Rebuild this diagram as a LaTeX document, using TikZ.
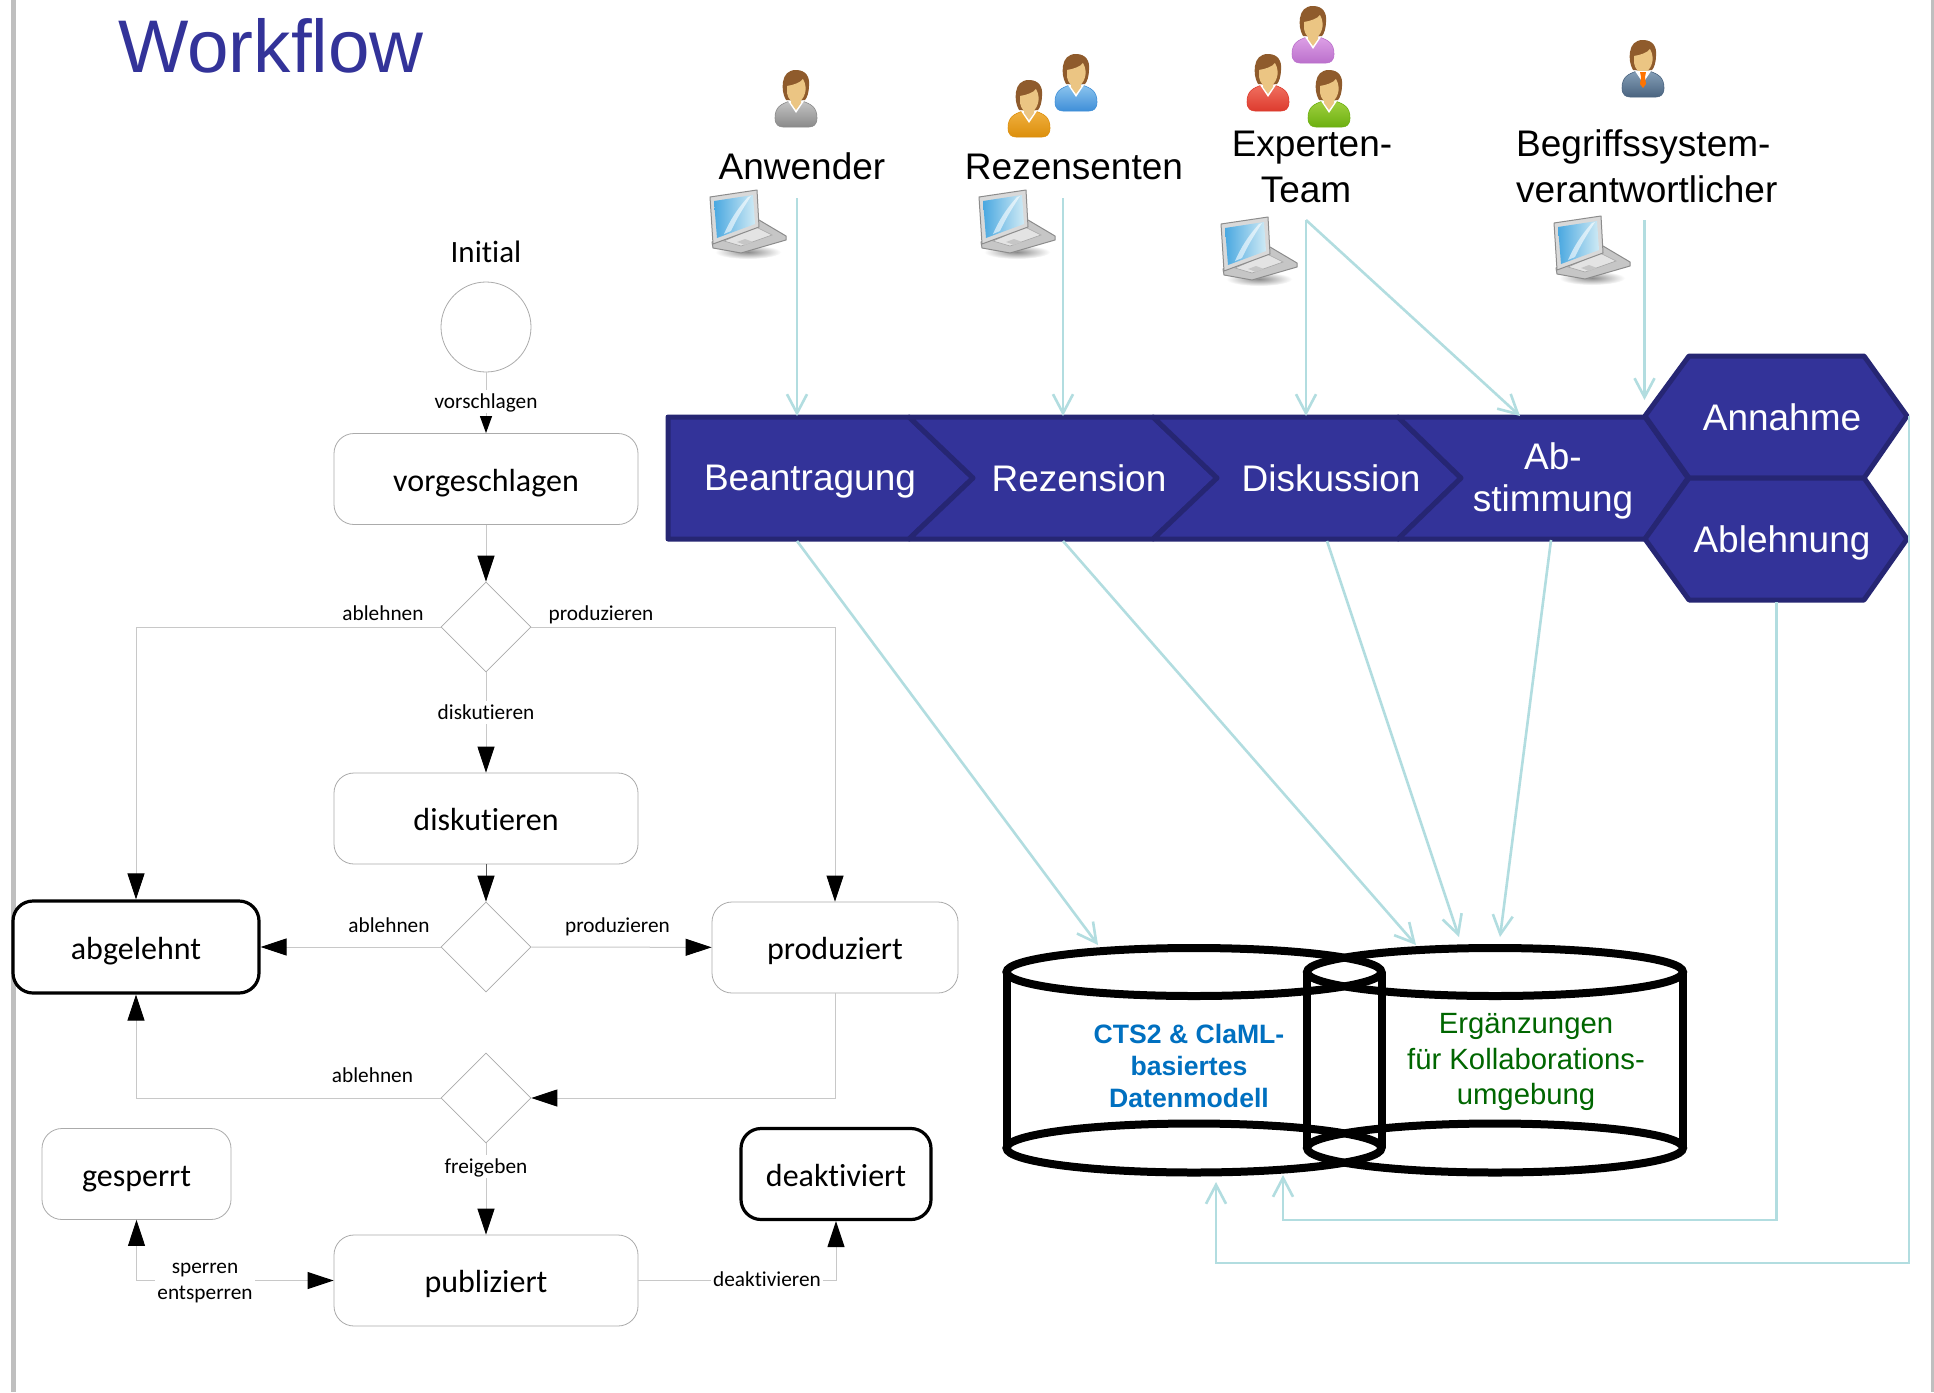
\documentclass[tikz,border=0pt]{standalone}
\usepackage{fontspec}
\setmainfont{Liberation Sans}
\newfontfamily\carlito[Ligatures=NoCommon,Contextuals=NoAlternate]{Carlito}
\usetikzlibrary{arrows.meta,shapes.geometric,calc}
\definecolor{procblue}{HTML}{333399}
\definecolor{procedge}{HTML}{262673}
\definecolor{flowteal}{HTML}{B2DDE0}
\definecolor{linegray}{HTML}{C8C8C8}
\definecolor{boxgray}{HTML}{ABABAB}
\definecolor{hairbrown}{HTML}{8F5B2C}
\definecolor{skintone}{HTML}{EBC583}
\definecolor{ctsblue}{HTML}{0070C0}
\definecolor{ergreen}{HTML}{006600}
\definecolor{screenA}{HTML}{4AA8E0}\definecolor{screenB}{HTML}{CFEAF5}
\definecolor{grayA}{HTML}{C4C4C4}\definecolor{grayB}{HTML}{8A8A8A}
\definecolor{orangeA}{HTML}{F0B040}\definecolor{orangeB}{HTML}{DC8F0C}
\definecolor{blueA}{HTML}{8CC4EE}\definecolor{blueB}{HTML}{3F8FD8}
\definecolor{purpleA}{HTML}{DDA0E6}\definecolor{purpleB}{HTML}{BB70CC}
\definecolor{redA}{HTML}{F07060}\definecolor{redB}{HTML}{DD3B2E}
\definecolor{greenA}{HTML}{A0D040}\definecolor{greenB}{HTML}{6CB010}
\definecolor{suitA}{HTML}{86A0B8}\definecolor{suitB}{HTML}{4A6480}
\tikzset{
  statebox/.style={draw=boxgray,line width=.8pt,rounded corners=20pt,fill=white,minimum width=304pt,minimum height=91pt,inner sep=0pt,
     font=\carlito\fontsize{32}{38}\selectfont,text height=26pt,text depth=2pt},
  endbox/.style={statebox,draw=black,line width=3.2pt},
  choice/.style={diamond,aspect=1,draw=boxgray,line width=.7pt,fill=white,minimum width=90pt,minimum height=90pt,inner sep=0pt},
  startc/.style={circle,draw=boxgray,line width=.8pt,fill=white,minimum size=90pt,inner sep=0pt},
  trans/.style={draw=linegray,line width=1pt,-{Triangle[length=26pt,width=17pt,black]}},
  translab/.style={font=\carlito\fontsize{21.3}{25}\selectfont,inner sep=2pt,text height=17pt,text depth=2pt},
  translabw/.style={translab,fill=white},
  chev/.style={fill=procblue,draw=procedge,line width=5pt,line join=round},
  proclab/.style={text=white,font=\fontsize{37}{42}\selectfont,align=center},
  actorlab/.style={text=black,font=\fontsize{37}{46}\selectfont,inner sep=0pt,text height=31pt,text depth=2pt},
  flow/.style={draw=flowteal,line width=2.6pt,-{Straight Barb[length=19pt,width=20pt]}},
  drum/.style={draw=black,line width=8pt},
  pics/personicon/.style n args={2}{code={
    \path[top color=#1,bottom color=#2,draw=#2,line width=.6pt]
      (-21,48) .. controls (-21,37) and (-15,34) .. (-6,31) -- (6,31) .. controls (15,34) and (21,37) .. (21,48)
      .. controls (21,55) and (17,57) .. (13,57) -- (-13,57) .. controls (-17,57) and (-21,55) .. (-21,48) -- cycle;
    \fill[white] (-8,31) -- (8,31) -- (0,43) -- cycle;
    \fill[hairbrown] (0,0) .. controls (10,0) and (14,7) .. (13,16) .. controls (13,22) and (11,28) .. (9,30)
      -- (-10,30) .. controls (-13,25) and (-14,18) .. (-13,12) .. controls (-12,5) and (-8,0) .. (0,0) -- cycle;
    \fill[skintone] (-5,28) -- (5,28) -- (5,33) -- (0,40) -- (-5,33) -- cycle;
    \fill[skintone] (-9,16) .. controls (-3,15) and (4,13) .. (7,9) .. controls (10,14) and (10,20) .. (9,23)
      .. controls (7,30) and (3,33) .. (0,33) .. controls (-4,33) and (-8,29) .. (-9,23) -- cycle;
  }},
  pics/tieicon/.style={code={
    \fill[white] (-6,31) -- (6,31) -- (0,44) -- cycle;
    \fill[orange!90!red] (-3,32) -- (3,32) -- (2,37) -- (3,44) -- (0,48) -- (-3,44) -- (-2,37) -- cycle;
  }},
  pics/laptopicon/.style={code={
    \path[inner color=gray!90,outer color=white] (38,62) ellipse [x radius=33,y radius=7];
    \path[fill=gray!45,draw=gray!90,line width=1pt,line join=round] (2,52) -- (49,30) -- (76,46) -- (76,50) -- (31,63) -- (3,58) -- cycle;
    \path[fill=gray!22,draw=gray!70,line width=.6pt] (14,51) -- (46,37) -- (62,45) -- (31,56) -- cycle;
    \path[fill=gray!45] (27,52) -- (35,49) -- (43,52) -- (35,55) -- cycle;
    \path[fill=gray!30,draw=gray!90,line width=1pt,line join=round] (0,7) -- (47,0) -- (49,37) -- (3,54) -- cycle;
    \path[left color=screenA,right color=screenB] (4,11) -- (43,5) -- (45,34) -- (7,48) -- cycle;
    \fill[white,opacity=.6] (14,44) .. controls (20,30) and (28,18) .. (38,7) -- (41,6) .. controls (32,20) and (26,30) .. (21,41) -- cycle;
  }},
}
\begin{document}
\begin{tikzpicture}[x=1pt,y=-1pt]
\useasboundingbox (0,0) rectangle (1934,1392);
\fill[white] (0,0) rectangle (1934,1392);
% page edges
\draw[draw=gray!50,line width=5.4pt] (13.3,0) -- (13.3,1392);
\draw[draw=gray!50,line width=3pt] (1932.5,0) -- (1932.5,1392);
% title
\node[text=procblue,font=\fontsize{74.6}{80}\selectfont,anchor=center,inner sep=0pt] (title) at (271,46) {Workflow};

% ---------- state diagram ----------
\node[font=\carlito\fontsize{31}{37}\selectfont,inner sep=0pt] (initlab) at (486,252) {Initial};
\node[startc] (init) at (486,327) {};
\node[statebox] (vorg) at (486,479) {vorgeschlagen};
\node[choice] (d1) at (486,627) {};
\node[statebox] (disk) at (486,818.5) {diskutieren};
\node[choice] (d2) at (486,947) {};
\node[endbox,minimum width=246pt,minimum height=92pt] (abg) at (136,947) {abgelehnt};
\node[statebox,minimum width=246pt] (prod) at (835,947.5) {produziert};
\node[choice] (d3) at (486,1098) {};
\node[statebox,minimum width=189pt] (gesp) at (136.5,1174) {gesperrt};
\node[endbox,minimum width=190pt] (deak) at (836,1174) {deaktiviert};
\node[statebox] (publ) at (486,1280.5) {publiziert};

\draw[trans,-{Triangle[length=17pt,width=12pt,black]}] (init) -- (vorg);
\draw[trans] (vorg) -- (d1);
\draw[trans] (d1) -- (disk);
\draw[trans] (d1.west) -| (abg.north);
\draw[trans] (d1.east) -| (prod.north);
\draw[trans,draw=gray!70!black] (disk) -- (d2);
\draw[trans] (d2) -- (abg);
\draw[trans] (d2) -- (prod);
\draw[trans] (prod.south) |- (d3.east);
\draw[trans] (d3.west) -| (abg.south);
\draw[trans] (d3) -- (publ);
\draw[draw=linegray,line width=1pt,{Triangle[length=26pt,width=17pt,black]}-{Triangle[length=26pt,width=17pt,black]}] (publ.west) -| (gesp.south);
\draw[trans] (publ.east) -| (deak.south);

\node[translabw] (l1) at (486,401) {vorschlagen};
\node[translab] (l2) at (383,613) {ablehnen};
\node[translab] (l3) at (601,613) {produzieren};
\node[translabw] (l4) at (486,712) {diskutieren};
\node[translab] (l5) at (389,925) {ablehnen};
\node[translab] (l6) at (617.5,925) {produzieren};
\node[translab] (l7) at (372.5,1075) {ablehnen};
\node[translabw] (l8) at (486,1166) {freigeben};
\node[translabw] (l9a) at (205,1266) {sperren};
\node[translabw] (l9b) at (205,1291.5) {entsperren};
\node[translabw] (l10) at (767,1279) {deaktivieren};

% ---------- icons ----------
\pic at (796,70) {personicon={grayA}{grayB}};
\pic at (1029,80) {personicon={orangeA}{orangeB}};
\pic at (1076,54) {personicon={blueA}{blueB}};
\pic at (1313,6) {personicon={purpleA}{purpleB}};
\pic at (1268,54) {personicon={redA}{redB}};
\pic at (1329,70) {personicon={greenA}{greenB}};
\pic at (1643,40) {personicon={suitA}{suitB}};
\pic at (1643,40) {tieicon};
\pic at (710,190) {laptopicon};
\pic at (979,190) {laptopicon};
\pic at (1221,217) {laptopicon};
\pic at (1554,216) {laptopicon};

% ---------- actors ----------
\node[actorlab] (anw) at (802,165) {Anwender};
\node[actorlab] (rez) at (1074,165) {Rezensenten};
\node[actorlab] (exp1) at (1312,142) {Experten-};
\node[actorlab] (exp2) at (1306,187.5) {Team};
\node[actorlab,anchor=west] (beg1) at (1516,142) {Begriffssystem-};
\node[actorlab,anchor=west] (beg2) at (1516,187.5) {verantwortlicher};

% ---------- process bar ----------
\path[chev] (668,417) -- (909,417) -- (973,478) -- (909,539) -- (668,539) -- cycle;
\path[chev] (909,417) -- (1153,417) -- (1217,478) -- (1153,539) -- (909,539) -- (973,478) -- cycle;
\path[chev] (1153,417) -- (1398,417) -- (1461,478) -- (1398,539) -- (1153,539) -- (1217,478) -- cycle;
\path[chev] (1398,417) -- (1645,417) -- (1688,478) -- (1645,539) -- (1398,539) -- (1461,478) -- cycle;
\path[chev] (1645,416) -- (1689,356) -- (1864,356) -- (1907,416) -- (1864,478) -- (1689,478) -- cycle;
\path[chev] (1645,539) -- (1689,478) -- (1864,478) -- (1907,539) -- (1864,600) -- (1689,600) -- cycle;
\node[proclab] (pa) at (810,482) {Beantragung};
\node[proclab] (pb) at (1079,478) {Rezension};
\node[proclab] (pc) at (1331,478) {Diskussion};
\node[proclab] (pd) at (1553,481) {Ab-\\stimmung};
\node[proclab] (pe) at (1782,417) {Annahme};
\node[proclab] (pf) at (1782,543) {Ablehnung};

% ---------- data model ----------
\draw[drum] (1007,972) -- (1007,1148);
\draw[drum] (1382,972) -- (1382,1148);
\draw[drum] (1307,972) -- (1307,1148);
\draw[drum] (1683,972) -- (1683,1148);
\draw[drum] (1194,972) ellipse [x radius=187.5,y radius=24];
\draw[drum] (1495,972) ellipse [x radius=188,y radius=24];
\draw[drum] (1194,1148) ellipse [x radius=187.5,y radius=24.5];
\draw[drum] (1495,1148) ellipse [x radius=188,y radius=24.5];
\node[text=ctsblue,font=\bfseries\fontsize{26.6}{32}\selectfont,align=center,inner sep=0pt] (cts) at (1189,1066) {CTS2 \& ClaML-\\basiertes\\Datenmodell};
\node[text=ergreen,font=\fontsize{29.3}{35.5}\selectfont,align=center,inner sep=0pt] (erg) at (1526,1062) {Ergänzungen\\für Kollaborations-\\umgebung};

% ---------- flows ----------
\coordinate (aS) at (797,198);    \coordinate (aE) at (797,416);
\coordinate (rS) at (1063,198);   \coordinate (rE) at (1063,416);
\coordinate (eS) at (1306,220);   \coordinate (eE) at (1306,416);
\coordinate (eF) at (1520,416);
\coordinate (bS) at (1644.5,220); \coordinate (bE) at (1644.5,400);
\draw[flow] (aS) -- (aE);
\draw[flow] (rS) -- (rE);
\draw[flow] (eS) -- (eE);
\draw[flow] (eS) -- (eF);
\draw[flow] (bS) -- (bE);
\coordinate (paB) at (797,541);   \coordinate (dbA) at (1098,945);
\coordinate (pbB) at (1063,541);  \coordinate (dbB) at (1416,945);
\coordinate (pcB) at (1327,541);  \coordinate (dbC) at (1459,937);
\coordinate (pdB) at (1551,540);  \coordinate (dbD) at (1500,937);
\draw[flow] (paB) -- (dbA);
\draw[flow] (pbB) -- (dbB);
\draw[flow] (pcB) -- (dbC);
\draw[flow] (pdB) -- (dbD);
\coordinate (pfB) at (1776.5,602); \coordinate (fbK) at (1776.5,1220); \coordinate (fbE) at (1283,1175);
\coordinate (peR) at (1909,416);   \coordinate (peK) at (1909,1263);   \coordinate (peE) at (1216,1182);
\draw[flow] (pfB) -- (fbK) -| (fbE);
\draw[flow] (peR) -- (peK) -| (peE);
\end{tikzpicture}
\end{document}
